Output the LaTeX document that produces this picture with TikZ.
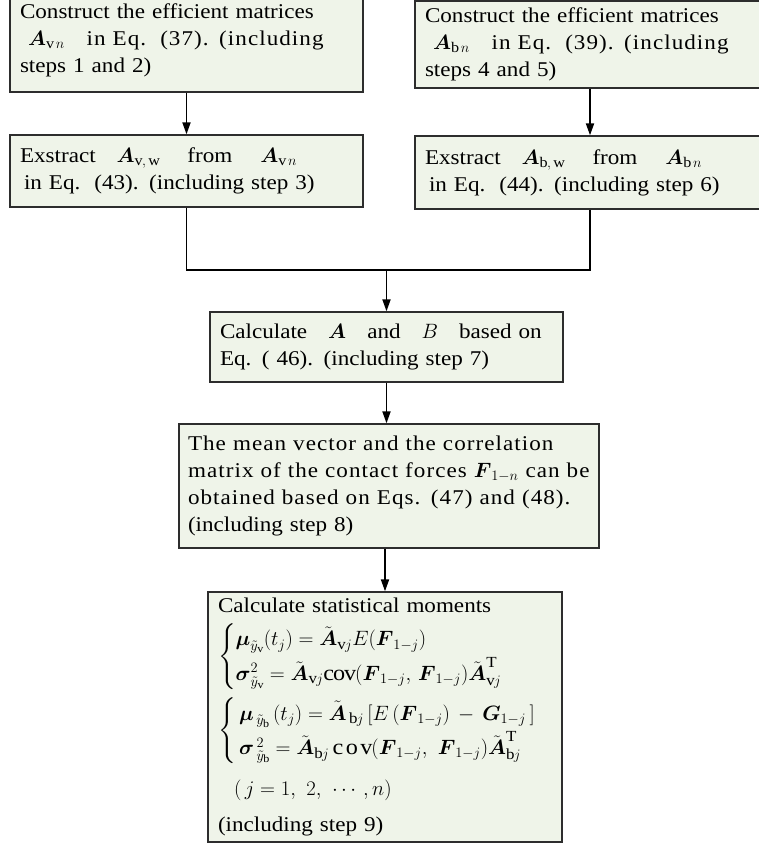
\documentclass[tikz,border=0pt]{standalone}
\usepackage{amsmath,amssymb}
\usepackage{fontspec}
\setmainfont[FakeStretch=1.1]{Liberation Serif}
\newfontfamily\spaced[FakeStretch=1.1,LetterSpace=5]{Liberation Serif}
\usetikzlibrary{arrows.meta}
\definecolor{boxfill}{RGB}{239,244,233}
\definecolor{boxline}{RGB}{45,45,45}
\newcommand{\bA}{\boldsymbol{A}}
\newcommand{\tA}{\tilde{\boldsymbol{A}}}
\newcommand{\bF}{\boldsymbol{F}}
\begin{document}
\begin{tikzpicture}[x=1pt,y=-1pt,
  box/.style={draw=boxline,line width=1.3pt,fill=boxfill,inner xsep=10pt,inner ysep=0pt,
    align=left,font=\fontsize{21}{27}\selectfont},
  link/.style={line width=1.8pt,draw=black},
  arr/.style={link,-{Triangle[length=12pt,width=8pt]}}]
\useasboundingbox (0,0) rectangle (758,845);

\node[box,text width=333pt,minimum height=104pt] (b1) at (186.5,40)
  {Construct the efficient matrices\\
   \hspace*{8pt}$\bA_{\mathrm{v}\,n}$\hspace{22pt}{\spaced in Eq.\ \ (37). (including}\\
   steps 1 and 2)};
\node[box,text width=330pt,minimum height=87pt] (b2) at (590,44.5)
  {Construct the efficient matrices\\
   \hspace*{8pt}$\bA_{\mathrm{b}\,n}$\hspace{22pt}{\spaced in Eq.\ \ (39). (including}\\
   steps 4 and 5)};
\node[box,text width=333pt,minimum height=72pt] (b3) at (186.5,171)
  {Exstract\ \ \ $\bA_{\mathrm{v,\,w}}$\ \ \ \ from\ \ \ \ $\bA_{\mathrm{v}\,n}$\\
   \hspace*{4pt}in Eq.\ \ (43). (including step 3)};
\node[box,text width=330pt,minimum height=73pt] (b4) at (590,172.5)
  {Exstract\ \ \ $\bA_{\mathrm{b,\,w}}$\ \ \ \ from\ \ \ \ $\bA_{\mathrm{b}\,n}$\\
   \hspace*{4pt}in Eq.\ \ (44). (including step 6)};
\node[box,text width=333pt,minimum height=70pt] (b5) at (386.5,347)
  {Calculate\ \ \ $\bA$\ \ \ and\ \ \ $B$\ \ \ based on\\
   Eq. ( 46). (including step 7)};
\node[box,text width=402pt,minimum height=124pt,inner xsep=9pt] (b6) at (389,486)
  {\makebox[\linewidth][s]{\spaced The mean vector and the correlation}\\
   \makebox[\linewidth][s]{\spaced matrix of the contact forces $\bF_{1-n}$ can be}\\
   \makebox[\linewidth][s]{\spaced obtained based on Eqs. (47) and (48).}\\
   (including step 8)};
\node[box,text width=334pt,minimum height=250pt] (b7) at (385,717)
  {Calculate statistical moments\\[8pt]
   \renewcommand{\arraystretch}{1.28}%
   {\fontsize{22}{27}\selectfont
   $\left\{\begin{array}{@{}l@{}}
     \boldsymbol{\mu}_{\tilde y_{\mathrm v}}(t_j)=\tA_{\mathrm{v}j}E(\bF_{1-j})\\
     \boldsymbol{\sigma}^2_{\tilde y_{\mathrm v}}=\tA_{\mathrm{v}j}\mathrm{cov}(\bF_{1-j},\,\bF_{1-j})\tA^{\mathrm T}_{\mathrm{v}j}
   \end{array}\right.$}\\[4pt]
   {\fontsize{22}{27}\selectfont
   $\left\{\begin{array}{@{}l@{}}
     \,\boldsymbol{\mu}_{\,\tilde y_{\mathrm b}}\,(t_j)=\tA_{\,\mathrm{b}j}\,[E\,(\bF_{1-j})\,-\,\boldsymbol{G}_{1-j}\,]\\
     \,\boldsymbol{\sigma}^{\,2}_{\,\tilde y_{\mathrm b}}=\tA_{\mathrm{b}j}\,\mathrm{c\,o\,v}(\bF_{1-j},\ \bF_{1-j})\tA^{\mathrm T}_{\mathrm{b}j}
   \end{array}\right.$}\\[14pt]
   \hspace*{16pt}$(\,j=1,\ 2,\ \cdots,n)$\\[9pt]
   (including step 9)};

\coordinate (j) at (b5.north |- 0,270);
\draw[arr] (b1.south) -- (b3.north);
\draw[arr] (b2.south) -- (b4.north);
\draw[link] (b3.south) |- (j);
\draw[link] (b4.south) |- (j);
\draw[arr] (j) -- (b5.north);
\draw[arr] (b5.south) -- (b5.south |- b6.north);
\draw[arr] (b7.north |- b6.south) -- (b7.north);
\end{tikzpicture}
\end{document}
